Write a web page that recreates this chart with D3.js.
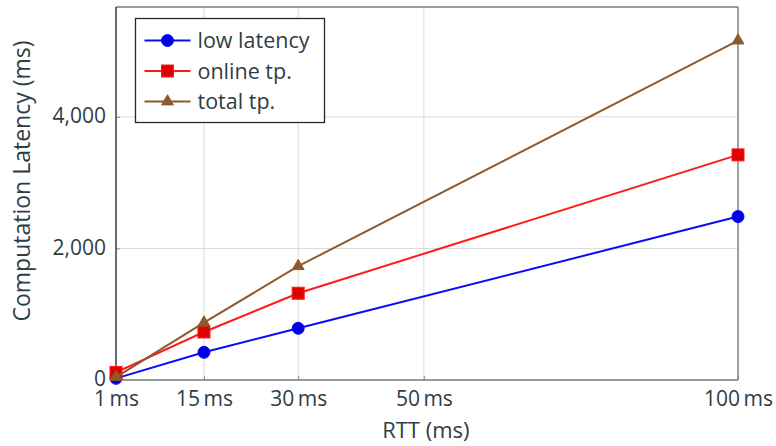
<!DOCTYPE html>
<html>
<head>
<meta charset="utf-8">
<script src="https://cdn.jsdelivr.net/npm/d3@7"></script>
<style>
  body { margin: 0; background: #fff; }
  svg text { font-family: "Open Sans", sans-serif; fill: #2f3d45; }
</style>
</head>
<body>
<div id="chart"></div>
<script>
// values
var rtt = [1, 15, 30, 100];
var lowLatency = [25, 421, 786, 2484];
var onlineTp = [115, 730, 1319, 3422];
var totalTp = [45, 872, 1730, 5160];
var xTicks = [1, 15, 30, 50, 100];
var yTicks = [0, 2000, 4000];
var seriesNames = ["low latency", "online tp.", "total tp."];

var W = 776, H = 446;
var m = {top: 7, right: 38, bottom: 66, left: 116};
var iw = W - m.left - m.right, ih = H - m.top - m.bottom;

var svg = d3.select("#chart").append("svg").attr("width", W).attr("height", H);
var g = svg.append("g").attr("transform", "translate(" + m.left + "," + m.top + ")");

var x = d3.scaleLinear().domain([1, 100]).range([0, iw]);
var y = d3.scaleLinear().domain([0, 5670]).range([ih, 0]);

// grid
g.selectAll(".vg").data(xTicks).enter().append("line")
  .attr("x1", d => x(d)).attr("x2", d => x(d)).attr("y1", 0).attr("y2", ih)
  .attr("stroke", "#d9d9d9").attr("stroke-width", 1);
g.selectAll(".hg").data(yTicks.slice(1)).enter().append("line")
  .attr("x1", 0).attr("x2", iw).attr("y1", d => y(d)).attr("y2", d => y(d))
  .attr("stroke", "#d9d9d9").attr("stroke-width", 1);

// axes
var xAxis = g.append("g").attr("transform", "translate(0," + ih + ")")
  .call(d3.axisBottom(x).tickValues(xTicks).tickSizeInner(-4).tickSizeOuter(0).tickPadding(11)
    .tickFormat(d => d + "\u2009ms"));
var yAxis = g.append("g")
  .call(d3.axisLeft(y).tickValues(yTicks).tickSizeInner(-4).tickSizeOuter(0).tickPadding(10)
    .tickFormat(d3.format(",")));
[xAxis, yAxis].forEach(function(a) {
  a.selectAll("text").style("font-size", "21px").attr("fill", "#2f3d45");
  a.selectAll(".tick line").attr("stroke", "#8a9597");
  a.select(".domain").remove();
});
xAxis.selectAll("text").attr("dy", "0.71em");
yAxis.selectAll("text").attr("dy", "0.28em");

// frame
g.append("line").attr("x1", 0).attr("x2", iw).attr("y1", 0).attr("y2", 0).attr("stroke", "#6f7d80").attr("stroke-width", 1.3);
g.append("line").attr("x1", iw).attr("x2", iw).attr("y1", 0).attr("y2", ih).attr("stroke", "#6f7d80").attr("stroke-width", 1.3);
g.append("line").attr("x1", 0).attr("x2", iw).attr("y1", ih).attr("y2", ih).attr("stroke", "#6f7d80").attr("stroke-width", 1.3);
g.append("line").attr("x1", 0).attr("x2", 0).attr("y1", 0).attr("y2", ih).attr("stroke", "#1f2a30").attr("stroke-width", 1.3);

// axis titles
svg.append("text").attr("x", m.left + x(50) + 2).attr("y", 438)
  .attr("text-anchor", "middle").style("font-size", "22px").text("RTT (ms)");
svg.append("text").attr("transform", "translate(30," + (m.top + 174) + ") rotate(-90)")
  .attr("text-anchor", "middle").style("font-size", "23px").text("Computation Latency (ms)");

var series = [
  {name: seriesNames[0], vals: lowLatency, color: "#0a0aff", fill: "#0000e0", shape: "circle"},
  {name: seriesNames[1], vals: onlineTp, color: "#ff1a1a", fill: "#e00000", shape: "square"},
  {name: seriesNames[2], vals: totalTp, color: "#8c5a2c", fill: "#8c5a2c", shape: "triangle"}
];

function marker(sel, s) {
  if (s.shape === "circle") {
    sel.append("circle").attr("r", 6).attr("fill", s.fill).attr("stroke", s.color).attr("stroke-width", 1);
  } else if (s.shape === "square") {
    sel.append("rect").attr("x", -6).attr("y", -6).attr("width", 12).attr("height", 12)
      .attr("fill", s.fill).attr("stroke", s.color).attr("stroke-width", 1);
  } else {
    sel.append("path").attr("d", d3.symbol(d3.symbolTriangle, 60)())
      .attr("fill", s.fill).attr("stroke", s.color).attr("stroke-width", 1);
  }
}

var line = d3.line().x(d => x(d[0])).y(d => y(d[1]));
series.forEach(function(s) {
  var pts = rtt.map((r, i) => [r, s.vals[i]]);
  g.append("path").datum(pts).attr("d", line).attr("fill", "none")
    .attr("stroke", s.color).attr("stroke-width", 2);
  pts.forEach(function(p) {
    var mk = g.append("g").attr("transform", "translate(" + x(p[0]) + "," + y(p[1]) + ")");
    marker(mk, s);
  });
});

// legend
var lg = svg.append("g").attr("transform", "translate(135.5,18.5)");
lg.append("rect").attr("width", 189).attr("height", 104).attr("fill", "#fff")
  .attr("stroke", "#1f2a30").attr("stroke-width", 1.3);
series.forEach(function(s, i) {
  var row = lg.append("g").attr("transform", "translate(0," + (22 + i * 30.5) + ")");
  row.append("line").attr("x1", 9).attr("x2", 55).attr("stroke", s.color).attr("stroke-width", 2);
  var mk = row.append("g").attr("transform", "translate(32,0)");
  marker(mk, s);
  row.append("text").attr("x", 62).attr("dy", "0.35em").style("font-size", "21.5px").text(s.name);
});
</script>
</body>
</html>
